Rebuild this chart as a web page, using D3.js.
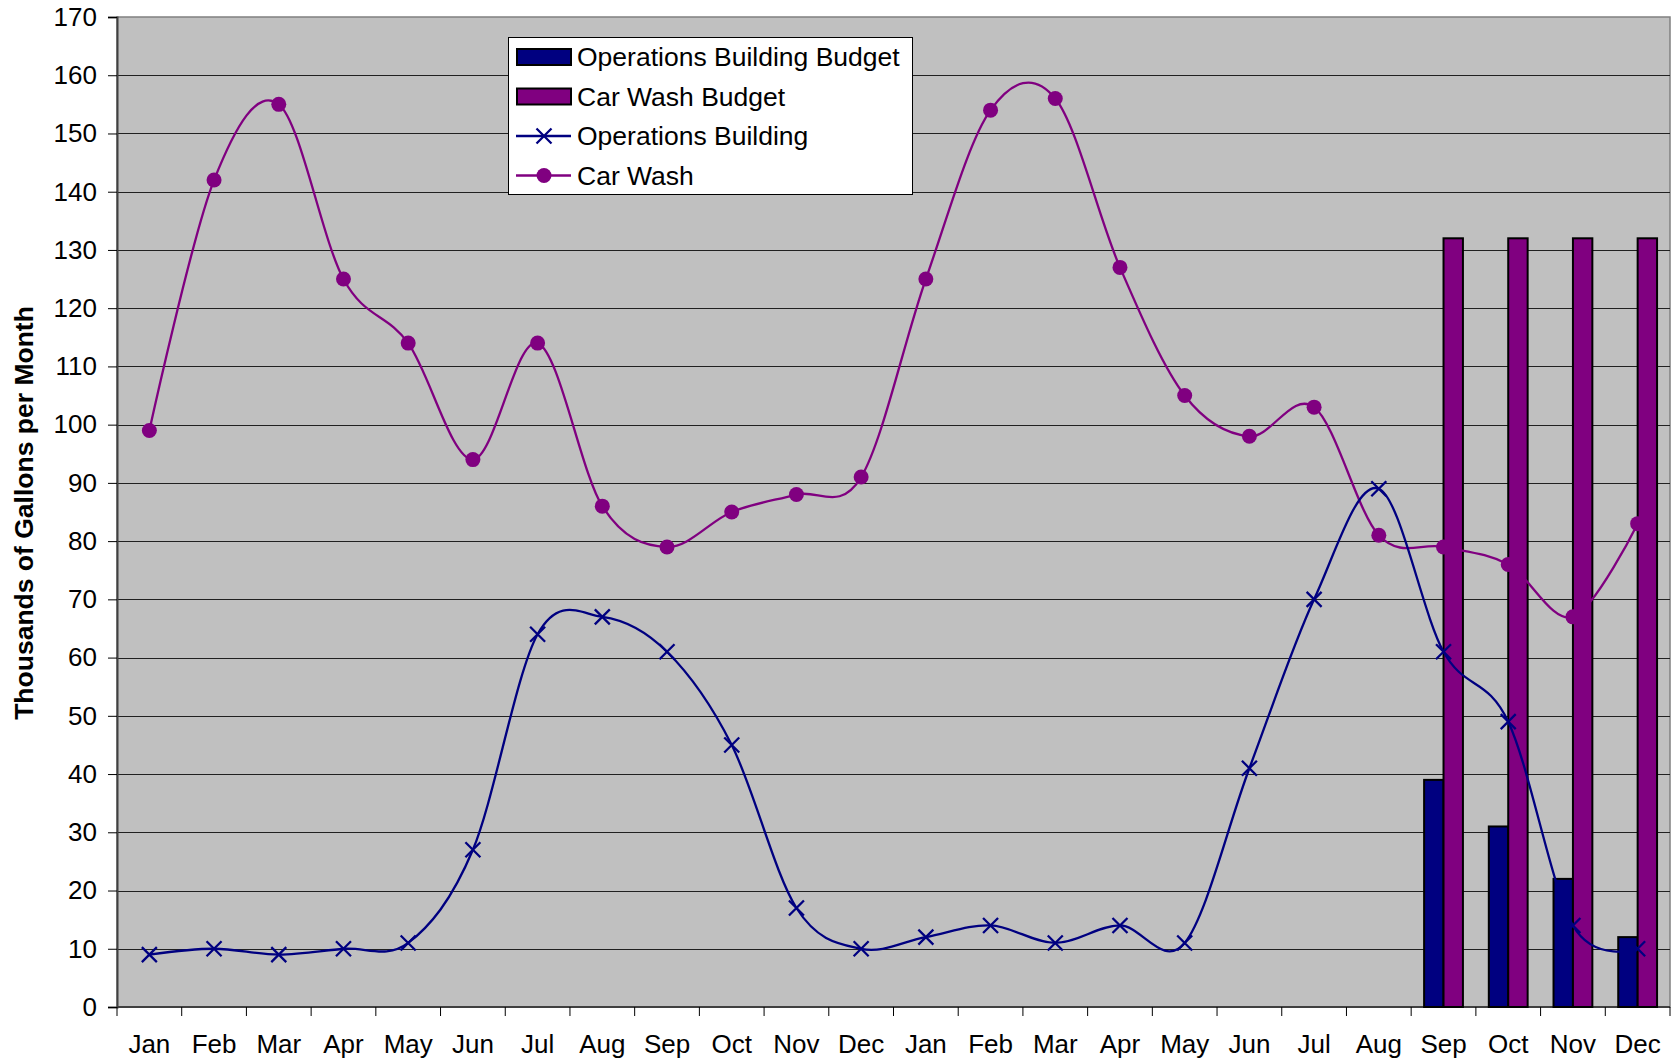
<!DOCTYPE html>
<html lang="en">

<head>
    <meta charset="UTF-8">
    <title>Water Use</title>
    <script src="https://cdn.jsdelivr.net/npm/d3@7"></script>
    <style>
        body { margin: 0; background: #fff; }
        text { font-family: "Liberation Sans", Arial, sans-serif; fill: #000; }
    </style>
</head>

<body>
    <div id="my_dataviz"></div>

    <script>
        // two years of months
        var months = ["Jan", "Feb", "Mar", "Apr", "May", "Jun", "Jul", "Aug", "Sep", "Oct", "Nov", "Dec",
            "Jan", "Feb", "Mar", "Apr", "May", "Jun", "Jul", "Aug", "Sep", "Oct", "Nov", "Dec"];

        var carWash = [99, 142, 155, 125, 114, 94, 114, 86, 79, 85, 88, 91,
            125, 154, 156, 127, 105, 98, 103, 81, 79, 76, 67, 83];
        var opsBuilding = [9, 10, 9, 10, 11, 27, 64, 67, 61, 45, 17, 10,
            12, 14, 11, 14, 11, 41, 70, 89, 61, 49, 14, 10];

        // budgets only for the last four months
        var opsBudget = [null, null, null, null, null, null, null, null, null, null, null, null,
            null, null, null, null, null, null, null, null, 39, 31, 22, 12];
        var carWashBudget = [null, null, null, null, null, null, null, null, null, null, null, null,
            null, null, null, null, null, null, null, null, 132, 132, 132, 132];

        var yTicks = d3.range(0, 171, 10);

        var margin = { top: 17, right: 1, bottom: 56, left: 117 },
            width = 1671 - margin.left - margin.right,
            height = 1063 - margin.top - margin.bottom;

        var navy = "#000080", purple = "#800080";

        var svg0 = d3.select("#my_dataviz")
            .append("svg")
            .attr("width", 1671)
            .attr("height", 1063);
        var svg = svg0.append("g")
            .attr("transform", "translate(" + margin.left + "," + margin.top + ")");

        var x = d3.scaleBand()
            .range([0, width])
            .domain(d3.range(months.length));

        var y = d3.scaleLinear()
            .domain([0, 170])
            .range([height, 0]);

        // plot background
        svg.append("rect")
            .attr("width", width)
            .attr("height", height)
            .attr("fill", "#c0c0c0")
            .attr("stroke", "#808080")
            .attr("stroke-width", 1.5);

        // gridlines
        svg.append("g")
            .selectAll("line")
            .data(yTicks.filter(function (d) { return d > 0 && d < 170; }))
            .enter()
            .append("line")
            .attr("x1", 0)
            .attr("x2", width)
            .attr("y1", function (d) { return Math.round(y(d)) + 0.5; })
            .attr("y2", function (d) { return Math.round(y(d)) + 0.5; })
            .attr("stroke", "#202020")
            .attr("stroke-width", 1.2);

        // Y axis
        var yAxis = svg.append("g")
            .call(d3.axisLeft(y).tickValues(yTicks).tickSize(9).tickPadding(11));
        yAxis.selectAll("text").style("font-size", "26px");
        yAxis.selectAll("line").attr("stroke", "#000");
        yAxis.select(".domain").attr("stroke", "#404040").attr("stroke-width", 2);

        // X axis: ticks at band boundaries
        var xAxis = svg.append("g")
            .attr("transform", "translate(0," + height + ")");
        xAxis.append("line")
            .attr("x1", 0).attr("x2", width)
            .attr("stroke", "#404040").attr("stroke-width", 2);
        xAxis.selectAll(".tk")
            .data(d3.range(months.length + 1))
            .enter()
            .append("line")
            .attr("class", "tk")
            .attr("x1", function (d) { return d * x.step(); })
            .attr("x2", function (d) { return d * x.step(); })
            .attr("y1", 0)
            .attr("y2", 9)
            .attr("stroke", "#000");
        xAxis.selectAll(".lbl")
            .data(months)
            .enter()
            .append("text")
            .attr("class", "lbl")
            .attr("x", function (d, i) { return x(i) + x.bandwidth() / 2; })
            .attr("y", 46)
            .attr("text-anchor", "middle")
            .style("font-size", "26px")
            .text(function (d) { return d; });

        // Budget bars
        var bw = x.bandwidth();
        svg.append("g")
            .selectAll("rect")
            .data(opsBudget.map(function (v, i) { return { i: i, v: v }; }).filter(function (d) { return d.v != null; }))
            .enter()
            .append("rect")
            .attr("x", function (d) { return x(d.i) + bw * 0.2; })
            .attr("y", function (d) { return y(d.v); })
            .attr("width", bw * 0.3)
            .attr("height", function (d) { return height - y(d.v); })
            .attr("fill", navy)
            .attr("stroke", "#000")
            .attr("stroke-width", 2);
        svg.append("g")
            .selectAll("rect")
            .data(carWashBudget.map(function (v, i) { return { i: i, v: v }; }).filter(function (d) { return d.v != null; }))
            .enter()
            .append("rect")
            .attr("x", function (d) { return x(d.i) + bw * 0.5; })
            .attr("y", function (d) { return y(d.v); })
            .attr("width", bw * 0.3)
            .attr("height", function (d) { return height - y(d.v); })
            .attr("fill", purple)
            .attr("stroke", "#000")
            .attr("stroke-width", 2);

        // smoothed lines
        var line = d3.line()
            .x(function (d, i) { return x(i) + bw / 2; })
            .y(function (d) { return y(d); })
            .curve(d3.curveCardinal.tension(0));

        svg.append("path")
            .datum(carWash)
            .attr("d", line)
            .attr("fill", "none")
            .attr("stroke", purple)
            .attr("stroke-width", 2.3);

        svg.append("path")
            .datum(opsBuilding)
            .attr("d", line)
            .attr("fill", "none")
            .attr("stroke", navy)
            .attr("stroke-width", 2.3);

        // markers
        svg.append("g")
            .selectAll("circle")
            .data(carWash)
            .enter()
            .append("circle")
            .attr("cx", function (d, i) { return x(i) + bw / 2; })
            .attr("cy", function (d) { return y(d); })
            .attr("r", 7.5)
            .attr("fill", purple);

        var xs = 7.5;
        svg.append("g")
            .selectAll("path")
            .data(opsBuilding)
            .enter()
            .append("path")
            .attr("transform", function (d, i) { return "translate(" + (x(i) + bw / 2) + "," + y(d) + ")"; })
            .attr("d", "M" + -xs + "," + -xs + "L" + xs + "," + xs + "M" + -xs + "," + xs + "L" + xs + "," + -xs)
            .attr("stroke", navy)
            .attr("stroke-width", 2.3)
            .attr("fill", "none");

        // Y axis title
        svg0.append("text")
            .attr("transform", "translate(33," + 513 + ")rotate(-90)")
            .attr("text-anchor", "middle")
            .style("font-size", "26.5px")
            .style("font-weight", "bold")
            .text("Thousands of Gallons per Month");

        // legend
        var legend = svg0.append("g").attr("transform", "translate(508,37)");
        legend.append("rect")
            .attr("x", 0.5).attr("y", 0.5)
            .attr("width", 404).attr("height", 157)
            .attr("fill", "#fff")
            .attr("stroke", "#000");

        var legendItems = [
            { name: "Operations Building Budget", color: navy, kind: "bar" },
            { name: "Car Wash Budget", color: purple, kind: "bar" },
            { name: "Operations Building", color: navy, kind: "x" },
            { name: "Car Wash", color: purple, kind: "dot" }
        ];

        legendItems.forEach(function (d, i) {
            var cy = 20 + i * 39.5;
            var g = legend.append("g").attr("transform", "translate(0," + cy + ")");
            if (d.kind == "bar") {
                g.append("rect")
                    .attr("x", 9).attr("y", -8)
                    .attr("width", 54).attr("height", 16)
                    .attr("fill", d.color)
                    .attr("stroke", "#000")
                    .attr("stroke-width", 2);
            } else {
                g.append("line")
                    .attr("x1", 8).attr("x2", 63)
                    .attr("stroke", d.color).attr("stroke-width", 2.3);
                if (d.kind == "x") {
                    g.append("path")
                        .attr("transform", "translate(36,0)")
                        .attr("d", "M-7.5,-7.5L7.5,7.5M-7.5,7.5L7.5,-7.5")
                        .attr("stroke", d.color).attr("stroke-width", 2.3);
                } else {
                    g.append("circle")
                        .attr("cx", 36).attr("r", 7.5)
                        .attr("fill", d.color);
                }
            }
            g.append("text")
                .attr("x", 69)
                .attr("y", 9)
                .style("font-size", "26.5px")
                .text(d.name);
        });
    </script>
</body>

</html>
